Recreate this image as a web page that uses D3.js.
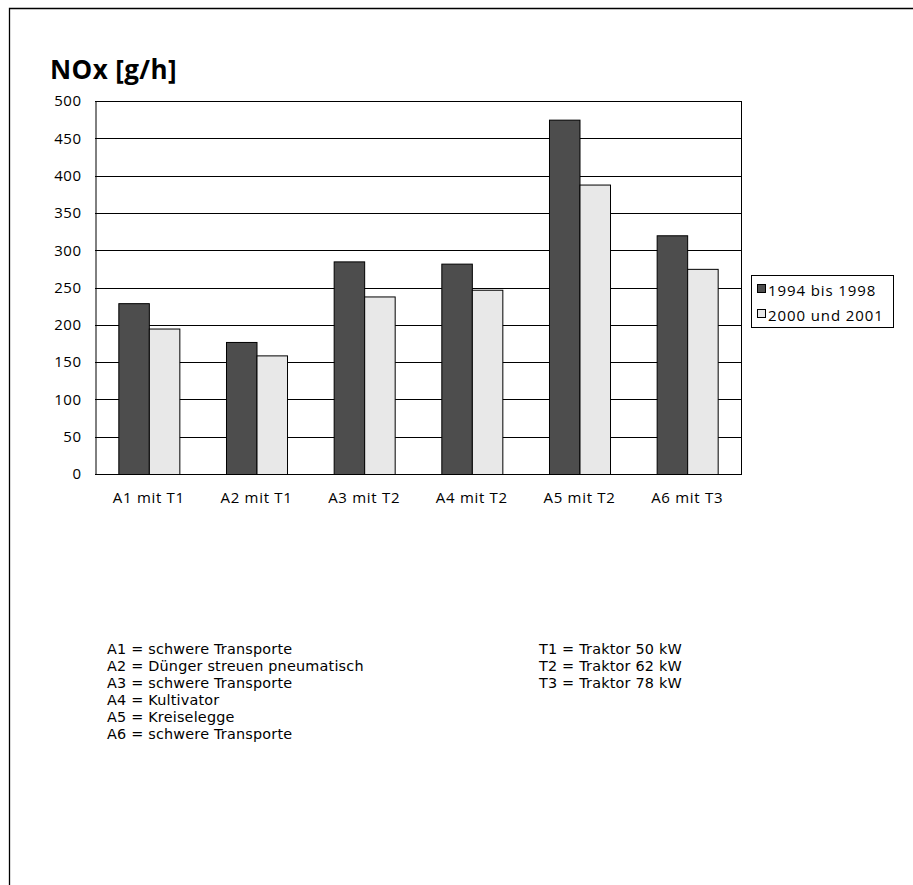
<!DOCTYPE html>
<html>
<head>
<meta charset="utf-8">
<script src="https://cdn.jsdelivr.net/npm/d3@7"></script>
<style>
  html, body { margin: 0; padding: 0; background: #fff; }
  svg { display: block; font-family: "Open Sans", "Noto Sans", sans-serif; }
</style>
</head>
<body>
<svg id="chart" width="913" height="885"></svg>
<script>
// NOx emissions per work/tractor combination
const categories = ["A1 mit T1", "A2 mit T1", "A3 mit T2", "A4 mit T2", "A5 mit T2", "A6 mit T3"];
const seriesNames = ["1994 bis 1998", "2000 und 2001"];
const values1994to1998 = [229, 177, 285, 282, 475, 320];
const values2000and2001 = [195, 159, 238, 247, 388, 275];
const yTicks = [0, 50, 100, 150, 200, 250, 300, 350, 400, 450, 500];
const workNotes = [
  "A1 = schwere Transporte",
  "A2 = Dünger streuen pneumatisch",
  "A3 = schwere Transporte",
  "A4 = Kultivator",
  "A5 = Kreiselegge",
  "A6 = schwere Transporte"
];
const tractorNotes = [
  "T1 = Traktor 50 kW",
  "T2 = Traktor 62 kW",
  "T3 = Traktor 78 kW"
];

const colors = ["#4d4d4d", "#e8e8e8"];
const svg = d3.select("#chart");

// page frame (top and left edges)
svg.append("path")
  .attr("d", "M9.5,885 V8.5 H913")
  .attr("fill", "none").attr("stroke", "#000").attr("stroke-width", 1.3);

const plot = { left: 95, right: 741, top: 101, bottom: 474 };

const x0 = d3.scaleBand()
  .domain(categories)
  .range([plot.left, plot.right])
  .paddingInner(0.4333)
  .paddingOuter(0.2167);
const x1 = d3.scaleBand().domain(seriesNames).range([0, x0.bandwidth()]);
const y = d3.scaleLinear().domain([0, 500]).range([plot.bottom, plot.top]);

// title
svg.append("text")
  .attr("x", 50).attr("y", 79)
  .attr("font-size", 26).attr("font-weight", "bold")
  .attr("letter-spacing", 0.4)
  .text("NOx [g/h]");

// horizontal gridlines
svg.append("g")
  .selectAll("line")
  .data(yTicks.filter(t => t > 0))
  .join("line")
  .attr("x1", plot.left).attr("x2", plot.right)
  .attr("y1", d => Math.round(y(d)) + 0.5).attr("y2", d => Math.round(y(d)) + 0.5)
  .attr("stroke", "#000").attr("stroke-width", 1);

// right border of plot area
svg.append("line")
  .attr("x1", plot.right + 0.5).attr("x2", plot.right + 0.5)
  .attr("y1", plot.top).attr("y2", plot.bottom)
  .attr("stroke", "#000");

// bars
const rows = categories.map((c, i) => ({ cat: c, vals: [values1994to1998[i], values2000and2001[i]] }));
svg.append("g")
  .selectAll("g")
  .data(rows)
  .join("g")
  .attr("transform", d => `translate(${x0(d.cat)},0)`)
  .selectAll("rect")
  .data(d => d.vals.map((v, k) => ({ name: seriesNames[k], v, k })))
  .join("rect")
  .attr("x", d => x1(d.name) + 0.5)
  .attr("y", d => y(d.v) + 0.5)
  .attr("width", x1.bandwidth())
  .attr("height", d => y(0) - y(d.v))
  .attr("fill", d => colors[d.k])
  .attr("stroke", "#000").attr("stroke-width", 1);

// y axis
const yAxis = svg.append("g")
  .attr("transform", `translate(${plot.left + 0.5},0)`)
  .call(d3.axisLeft(y).tickValues(yTicks).tickSize(0).tickPadding(14));
yAxis.select(".domain").attr("stroke", "#000");
yAxis.selectAll("text").attr("font-size", 15).attr("fill", "#000")
  .attr("letter-spacing", 0.5)
  .attr("font-family", "'Open Sans', sans-serif");

// x axis
const xAxis = svg.append("g")
  .attr("transform", `translate(0,${plot.bottom + 0.5})`)
  .call(d3.axisBottom(x0).tickSize(0).tickPadding(18));
xAxis.select(".domain").attr("stroke", "#000").attr("d", `M${plot.left},0H${plot.right + 1}`);
xAxis.selectAll("text").attr("font-size", 15).attr("fill", "#000")
  .attr("letter-spacing", 0.7)
  .attr("font-family", "'Open Sans', sans-serif");

// legend
const legend = svg.append("g");
legend.append("rect")
  .attr("x", 751.5).attr("y", 275.5).attr("width", 142).attr("height", 52)
  .attr("fill", "#fff").attr("stroke", "#000");
seriesNames.forEach((name, k) => {
  legend.append("rect")
    .attr("x", 757.5).attr("y", 284.5 + k * 25).attr("width", 8).attr("height", 8)
    .attr("fill", colors[k]).attr("stroke", "#000");
  legend.append("text")
    .attr("x", 768).attr("y", 296 + k * 25)
    .attr("font-size", 15)
    .attr("letter-spacing", 0.9)
    .text(name);
});

// explanatory notes, tightly set lines (17px leading)
function noteBlock(lines, xPos) {
  svg.append("g").selectAll("text")
    .data(lines).join("text")
    .attr("x", xPos)
    .attr("y", (d, i) => 654 + i * 17)
    .attr("font-family", "'DejaVu Sans', sans-serif")
    .attr("font-size", 14.4)
    .attr("letter-spacing", 0.2)
    .text(d => d);
}
noteBlock(workNotes, 107);
noteBlock(tractorNotes, 539);
</script>
</body>
</html>
